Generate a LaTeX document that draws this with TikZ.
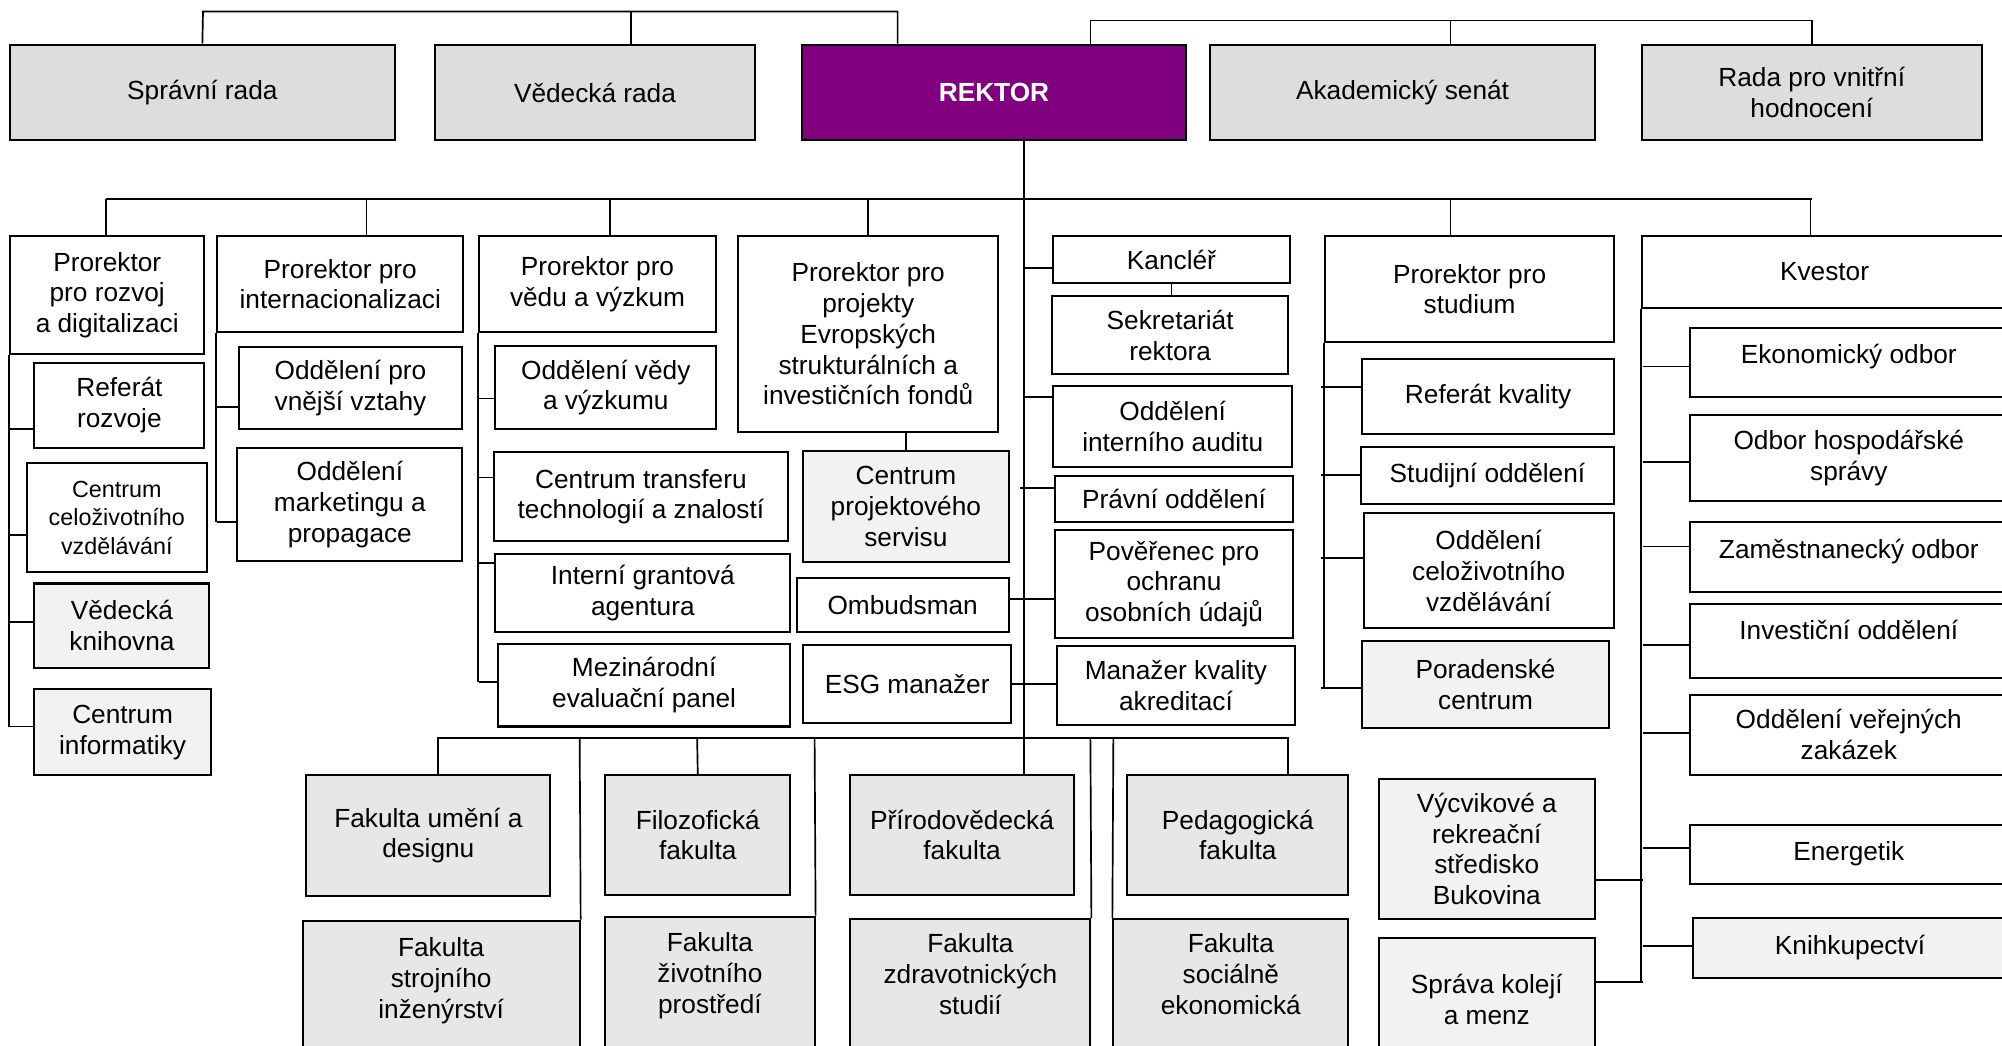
\documentclass[tikz,border=0pt]{standalone}
\usepackage{fontspec}
\setmainfont{Liberation Sans}

\definecolor{radagray}{HTML}{DDDDDD}
\definecolor{fakgray}{HTML}{E7E7E7}
\definecolor{svetlagray}{HTML}{F2F2F2}
\definecolor{rektorfialova}{HTML}{800080}

\begin{document}
\begin{tikzpicture}[x=0.02cm,y=-0.02cm,
  box/.style={draw=black,line width=0.9pt,inner sep=0pt,align=center,font=\fontsize{11.7}{13.7}\selectfont},
  ram/.style args={#1/#2/#3/#4}{at={({(#1+#3)/2},{(#2+#4)/2})},
    minimum width={(#3-#1)*0.02cm},minimum height={(#4-#2)*0.02cm}},
  wbox/.style={box,fill=white},
  tbox/.style={box,fill=radagray},
  fbox/.style={box,fill=fakgray},
  lbox/.style={box,fill=svetlagray},
  rbox/.style={box,fill=rektorfialova,text=white,font=\fontsize{11.7}{13.7}\selectfont\bfseries},
  conn/.style={line width=0.75pt}]
\clip (0,0) rectangle (1568,819);

% rady a rektor
\node[tbox,ram=8/35/309/110] (spr) {Správní rada};
\node[tbox,ram=341/35/591/110] (ved) {Vědecká rada};
\node[rbox,ram=628/35/929/110] (rek) {REKTOR};
\node[tbox,ram=948/35/1249/110] (sen) {Akademický senát};
\node[tbox,ram=1286/35/1552/110] (rvh) {Rada pro vnitřní\\hodnocení};

\coordinate (hl) at (159,9);
\coordinate (hr) at (703,9);
\coordinate (vd) at (494,9);
\draw[conn] (spr.north) -- (hl) -- (hr) -- (hr |- rek.north);
\draw[conn] (vd) -- (vd |- ved.north);
\coordinate (hs) at (854,16);
\coordinate (hh) at (1419,16);
\coordinate (as) at (1136,16);
\draw[conn] (hs |- rek.north) -- (hs) -- (hh) -- (rvh.north);
\draw[conn] (as) -- (as |- sen.north);

% prorektori, kancler, kvestor
\node[wbox,ram=8/185/160/277] (prd) {Prorektor\\pro rozvoj\\a digitalizaci};
\node[wbox,ram=170/185/363/260] (pri) {Prorektor pro\\internacionalizaci};
\node[wbox,ram=375/185/561/260] (prv) {Prorektor pro\\vědu a výzkum};
\node[wbox,ram=578/185/782/338] (pre) {Prorektor pro\\projekty\\Evropských\\strukturálních a\\investičních fondů};
\node[wbox,ram=825/185/1010/222] (kan) {Kancléř};
\node[wbox,ram=824/232/1009/293] (sek) {Sekretariát\\rektora};
\node[wbox,ram=825/302/1012/366] (aud) {Oddělení\\interního auditu};
\node[wbox,ram=826/373/1013/409] (pra) {Právní oddělení};
\node[wbox,ram=826/415/1013/500] (gdp) {Pověřenec pro\\ochranu\\osobních údajů};
\node[wbox,ram=828/506/1014/568] (mkv) {Manažer kvality\\akreditací};
\node[wbox,ram=1038/185/1264/268] (prs) {Prorektor pro\\studium};
\node[wbox,ram=1286/185/1572/241] (kve) {Kvestor};

\coordinate (b1) at (83,156);
\coordinate (b2) at (1419,156);
\draw[conn] (b1) -- (b2);
\foreach \x/\n in {83/prd,287/pri,478/prv,680/pre,1136/prs,1418/kve}
  \draw[conn] (\x,156) -- (\x,156 |- \n.north);

% linie rektora
\coordinate (rk) at (802,110);
\draw[conn] (rk) -- (rk |- 0,607);
\draw[conn] (802,210) -- (kan.west |- 0,210);
\draw[conn] (kan.south) -- (kan.south |- sek.north);
\draw[conn] (802,311) -- (aud.west |- 0,311);
\draw[conn] (799,382) -- (pra.west |- 0,382);

% rozvoj a digitalizace
\node[wbox,ram=27/284/160/351] (rrz) {Referát\\rozvoje};
\node[wbox,ram=21/363/162/448,font=\fontsize{10.4}{12.8}\selectfont] (ccv) {Centrum\\celoživotního\\vzdělávání};
\node[lbox,ram=27/457/164/523] (vkn) {Vědecká\\knihovna};
\node[lbox,ram=27/540/165/607] (cin) {Centrum\\informatiky};
\draw[conn] (prd.south west) -- (prd.south west |- 0,569);
\foreach \y/\n in {336/rrz,419/ccv,487/vkn,569/cin}
  \draw[conn] (8,\y) -- (\n.west |- 0,\y);

% internacionalizace
\node[wbox,ram=187/272/362/336] (ovv) {Oddělení pro\\vnější vztahy};
\node[wbox,ram=186/351/362/439] (omp) {Oddělení\\marketingu a\\propagace};
\draw[conn] (pri.south west) -- (pri.south west |- 0,409);
\foreach \y/\n in {319/ovv,409/omp}
  \draw[conn] (170,\y) -- (\n.west |- 0,\y);

% veda a vyzkum
\node[wbox,ram=388/271/561/336] (ovy) {Oddělení vědy\\a výzkumu};
\node[wbox,ram=387/354/617/424] (ctt) {Centrum transferu\\technologií a znalostí};
\node[wbox,ram=388/434/619/495] (iga) {Interní grantová\\agentura};
\node[wbox,ram=390/504/619/569] (mep) {Mezinárodní\\evaluační panel};
\draw[conn] (prv.south west) -- (prv.south west |- 0,534);
\foreach \y/\n in {312/ovy,374/ctt,441/iga,534/mep}
  \draw[conn] (375,\y) -- (\n.west |- 0,\y);

% projekty, ombudsman, ESG
\node[lbox,ram=629/353/790/440] (cps) {Centrum\\projektového\\servisu};
\node[wbox,ram=624/453/790/495] (omb) {Ombudsman};
\node[wbox,ram=629/505/792/566] (esg) {ESG manažer};
\draw[conn] (cps.north) -- (cps.north |- pre.south);
\draw[conn] (omb.east |- 0,469) -- (gdp.west |- 0,469);
\draw[conn] (esg.east) -- (esg.east -| mkv.west);

% studium
\node[wbox,ram=1067/281/1264/340] (rkv) {Referát kvality};
\node[wbox,ram=1066/350/1264/395] (sto) {Studijní oddělení};
\node[wbox,ram=1068/402/1264/492] (ocv) {Oddělení\\celoživotního\\vzdělávání};
\node[lbox,ram=1067/502/1260/570] (poc) {Poradenské\\centrum};
\draw[conn] (prs.south west) -- (prs.south west |- 0,539);
\foreach \y/\n in {303/rkv,372/sto,437/ocv,539/poc}
  \draw[conn] (1035,\y) -- (\n.west |- 0,\y);

% kvestor
\node[wbox,ram=1324/257/1572/311] (eko) {Ekonomický odbor\\[-6.3pt]\mbox{}};
\node[wbox,ram=1324/325/1572/392] (ohs) {Odbor hospodářské\\správy};
\node[wbox,ram=1324/409/1572/464] (zam) {Zaměstnanecký odbor\\[-6.3pt]\mbox{}};
\node[wbox,ram=1324/473/1572/531] (inv) {Investiční oddělení\\[-3.5pt]\mbox{}};
\node[wbox,ram=1324/544/1572/607] (ovz) {Oddělení veřejných\\zakázek};
\node[wbox,ram=1324/646/1572/692] (ene) {Energetik};
\node[lbox,ram=1326/719/1572/766] (knh) {Knihkupectví};
\node[lbox,ram=1080/610/1249/720] (vrs) {Výcvikové a\\rekreační\\středisko\\Bukovina};
\node[lbox,ram=1080/735/1249/830] (skm) {Správa kolejí\\a menz};
\draw[conn] (kve.south west) -- (kve.south west |- 0,770);
\foreach \y/\n in {287/eko,362/ohs,428/zam,505/inv,574/ovz,664/ene,741/knh}
  \draw[conn] (1287,\y) -- (\n.west |- 0,\y);
\draw[conn] (vrs.east |- 0,689) -- (1287,689);
\draw[conn] (skm.east |- 0,769) -- (1287,769);

% fakulty
\node[fbox,ram=240/607/431/702] (fud) {Fakulta umění a\\designu};
\node[fbox,ram=474/607/619/701] (fil) {Filozofická\\fakulta};
\node[fbox,ram=666/607/841/701] (prf) {Přírodovědecká\\fakulta};
\node[fbox,ram=883/607/1056/701] (ped) {Pedagogická\\fakulta};
\node[fbox,ram=237/721/454/830] (fsi) {Fakulta\\strojního\\inženýrství\\[-2.9pt]\mbox{}};
\node[fbox,ram=474/718/638/830] (fzp) {Fakulta\\životního\\prostředí\\ \mbox{}};
\node[fbox,ram=666/720/854/830] (fzs) {Fakulta\\zdravotnických\\studií\\ \mbox{}};
\node[fbox,ram=872/720/1056/830] (fse) {Fakulta\\sociálně\\ekonomická\\ \mbox{}};

\coordinate (f1) at (343,578);
\coordinate (f2) at (1009,578);
\draw[conn] (f1 |- fud.north) -- (f1) -- (f2) -- (f2 |- ped.north);
\draw[conn] (546,578) -- (fil.north);
\draw[conn] (454,578) -- (fsi.north east);
\draw[conn] (638,578) -- (fzp.north east);
\draw[conn] (854,578) -- (fzs.north east);
\draw[conn] (872,578) -- (fse.north west);
\end{tikzpicture}
\end{document}
